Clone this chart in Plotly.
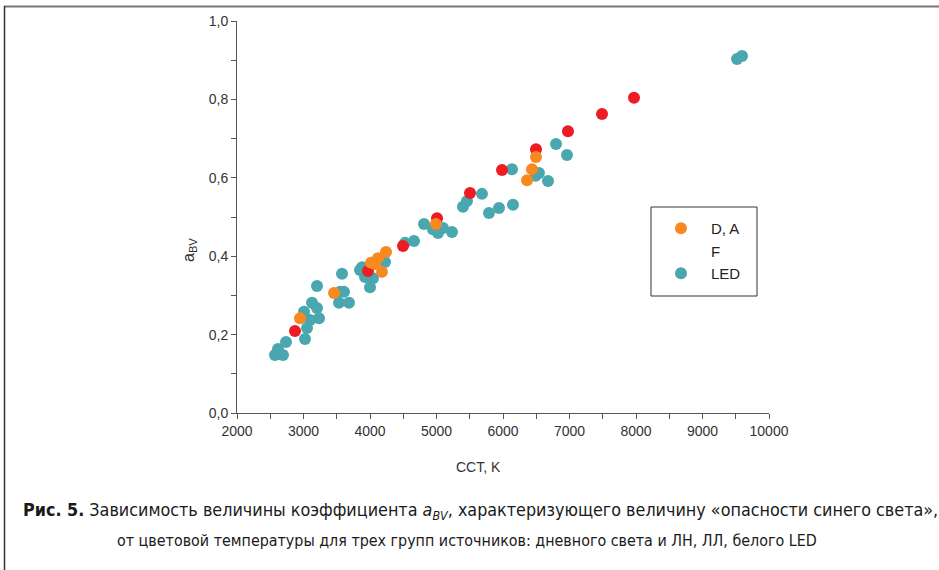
import plotly.graph_objects as go

# ---- data ----
cct_led = [2571, 2617, 2692, 2737, 3023, 3053, 3008, 3128, 3203, 3233, 3098, 3203,
           3579, 3609, 3534, 3684, 3549, 3850, 3880, 3925, 4000, 4045, 4226,
           4526, 4662, 4812, 4947, 5098, 5023, 5233, 5398, 5459, 5684, 5789,
           5940, 6150, 6135, 6541, 6490, 6677, 6797, 6962, 9519, 9594]
abv_led = [0.148, 0.163, 0.148, 0.181, 0.189, 0.217, 0.258, 0.281, 0.268, 0.242, 0.237, 0.324,
           0.355, 0.309, 0.281, 0.281, 0.309, 0.365, 0.372, 0.347, 0.321, 0.344, 0.385,
           0.434, 0.439, 0.482, 0.469, 0.472, 0.459, 0.462, 0.526, 0.541, 0.559, 0.510,
           0.523, 0.531, 0.622, 0.612, 0.605, 0.592, 0.686, 0.658, 0.903, 0.911]

cct_f = [2872, 3970, 4496, 5008, 5504, 5985, 6496, 6977, 7489, 7970]
abv_f = [0.209, 0.362, 0.426, 0.497, 0.561, 0.620, 0.673, 0.719, 0.763, 0.804]

cct_da = [2947, 3459, 4015, 4075, 4120, 4241, 4180, 4992, 6496, 6436, 6361]
abv_da = [0.242, 0.306, 0.383, 0.380, 0.395, 0.411, 0.360, 0.482, 0.653, 0.622, 0.594]

x_ticks = [2000, 3000, 4000, 5000, 6000, 7000, 8000, 9000, 10000]
x_ticktext = ["2000", "3000", "4000", "5000", "6000", "7000", "8000", "9000", "10000"]
y_ticks = [0.0, 0.2, 0.4, 0.6, 0.8, 1.0]

C_DA = "#F7891F"
C_F = "#ED1C24"
C_LED = "#4AA7AF"
MS = 12

fig = go.Figure()
fig.add_trace(go.Scatter(x=cct_led, y=abv_led, mode="markers", name="LED", legendrank=3,
                         marker=dict(color=C_LED, size=MS, line=dict(width=0))))
fig.add_trace(go.Scatter(x=cct_f, y=abv_f, mode="markers", name="F", showlegend=False,
                         marker=dict(color=C_F, size=MS, line=dict(width=0))))
fig.add_trace(go.Scatter(x=cct_da, y=abv_da, mode="markers", name="D, A", legendrank=1,
                         marker=dict(color=C_DA, size=MS, line=dict(width=0))))
# legend entry for F (shown without a symbol, as in the original)
fig.add_trace(go.Scatter(x=[None], y=[None], mode="markers", name="F", legendrank=2,
                         marker=dict(color="rgba(0,0,0,0)", size=MS)))

FONT = "Liberation Sans"
axis_font = dict(family=FONT, size=14, color="#333333")
L, R, T, B = 237, 769, 21, 413
W, H = 939, 570


def px(xp):
    return (xp - L) / (R - L)


def py(yp):
    return (B - yp) / (B - T)


fig.update_layout(
    width=W, height=H,
    margin=dict(l=L, r=W - R, t=T, b=H - B, pad=0),
    paper_bgcolor="white", plot_bgcolor="white",
    separators=", ",
    showlegend=True,
    legend=dict(x=px(651), y=py(212), xanchor="left", yanchor="top",
                borderwidth=0, bgcolor="rgba(0,0,0,0)",
                font=dict(family=FONT, size=15, color="#222222"),
                itemwidth=50, tracegroupgap=0),
    xaxis=dict(range=[2000, 10000], tickvals=x_ticks, ticktext=x_ticktext, ticks="outside", ticklen=5,
               tickcolor="#555555", showline=True, linecolor="#555555", linewidth=1,
               showgrid=False, zeroline=False, tickfont=axis_font,
               minor=dict(dtick=500, tick0=2000, ticks="outside", ticklen=5, tickcolor="#555555")),
    yaxis=dict(range=[0, 1.0], tickvals=y_ticks, tickformat=".1f", ticks="outside", ticklen=5,
               tickcolor="#555555", showline=True, linecolor="#555555", linewidth=1,
               showgrid=False, zeroline=False, tickfont=axis_font,
               minor=dict(dtick=0.1, tick0=0, ticks="outside", ticklen=5, tickcolor="#555555")),
)

# legend frame
fig.add_shape(type="rect", xref="paper", yref="paper", x0=px(651), x1=px(757), y0=py(296), y1=py(207),
              line=dict(color="#333333", width=1), layer="below")

fig.add_annotation(text="a<sub>BV</sub>", xref="paper", yref="paper", x=px(190), y=py(250),
                   textangle=-90, showarrow=False, font=dict(family=FONT, size=16, color="#333333"),
                   xanchor="center", yanchor="middle")
fig.add_annotation(text="CCT, K", xref="paper", yref="paper", x=px(478), y=py(467),
                   showarrow=False, font=axis_font, xanchor="center", yanchor="middle")

cap1 = dict(family="Liberation Sans Narrow, DejaVu Sans Condensed, Arial Narrow", size=17.8, color="#1a1a1a")
cap2 = dict(family="Liberation Sans Narrow, DejaVu Sans Condensed, Arial Narrow", size=15.9, color="#1a1a1a")
fig.add_annotation(text="<b>Рис. 5.</b> Зависимость величины коэффициента <i>a<sub>BV</sub></i>, характеризующего величину «опасности синего света»,",
                   xref="paper", yref="paper", x=px(21), y=py(511), xanchor="left", yanchor="middle",
                   showarrow=False, font=cap1)
fig.add_annotation(text="от цветовой температуры для трех групп источников: дневного света и ЛН, ЛЛ, белого LED",
                   xref="paper", yref="paper", x=px(467), y=py(540), xanchor="center", yanchor="middle",
                   showarrow=False, font=cap2)

# outer frame (top and left edges)
fig.add_shape(type="line", xref="paper", yref="paper", x0=px(4), x1=px(939), y0=py(6.5), y1=py(6.5),
              line=dict(color="#777777", width=2))
fig.add_shape(type="line", xref="paper", yref="paper", x0=px(4.5), x1=px(4.5), y0=py(6), y1=py(570),
              line=dict(color="#333333", width=1.5))

fig.write_html("out.html")
